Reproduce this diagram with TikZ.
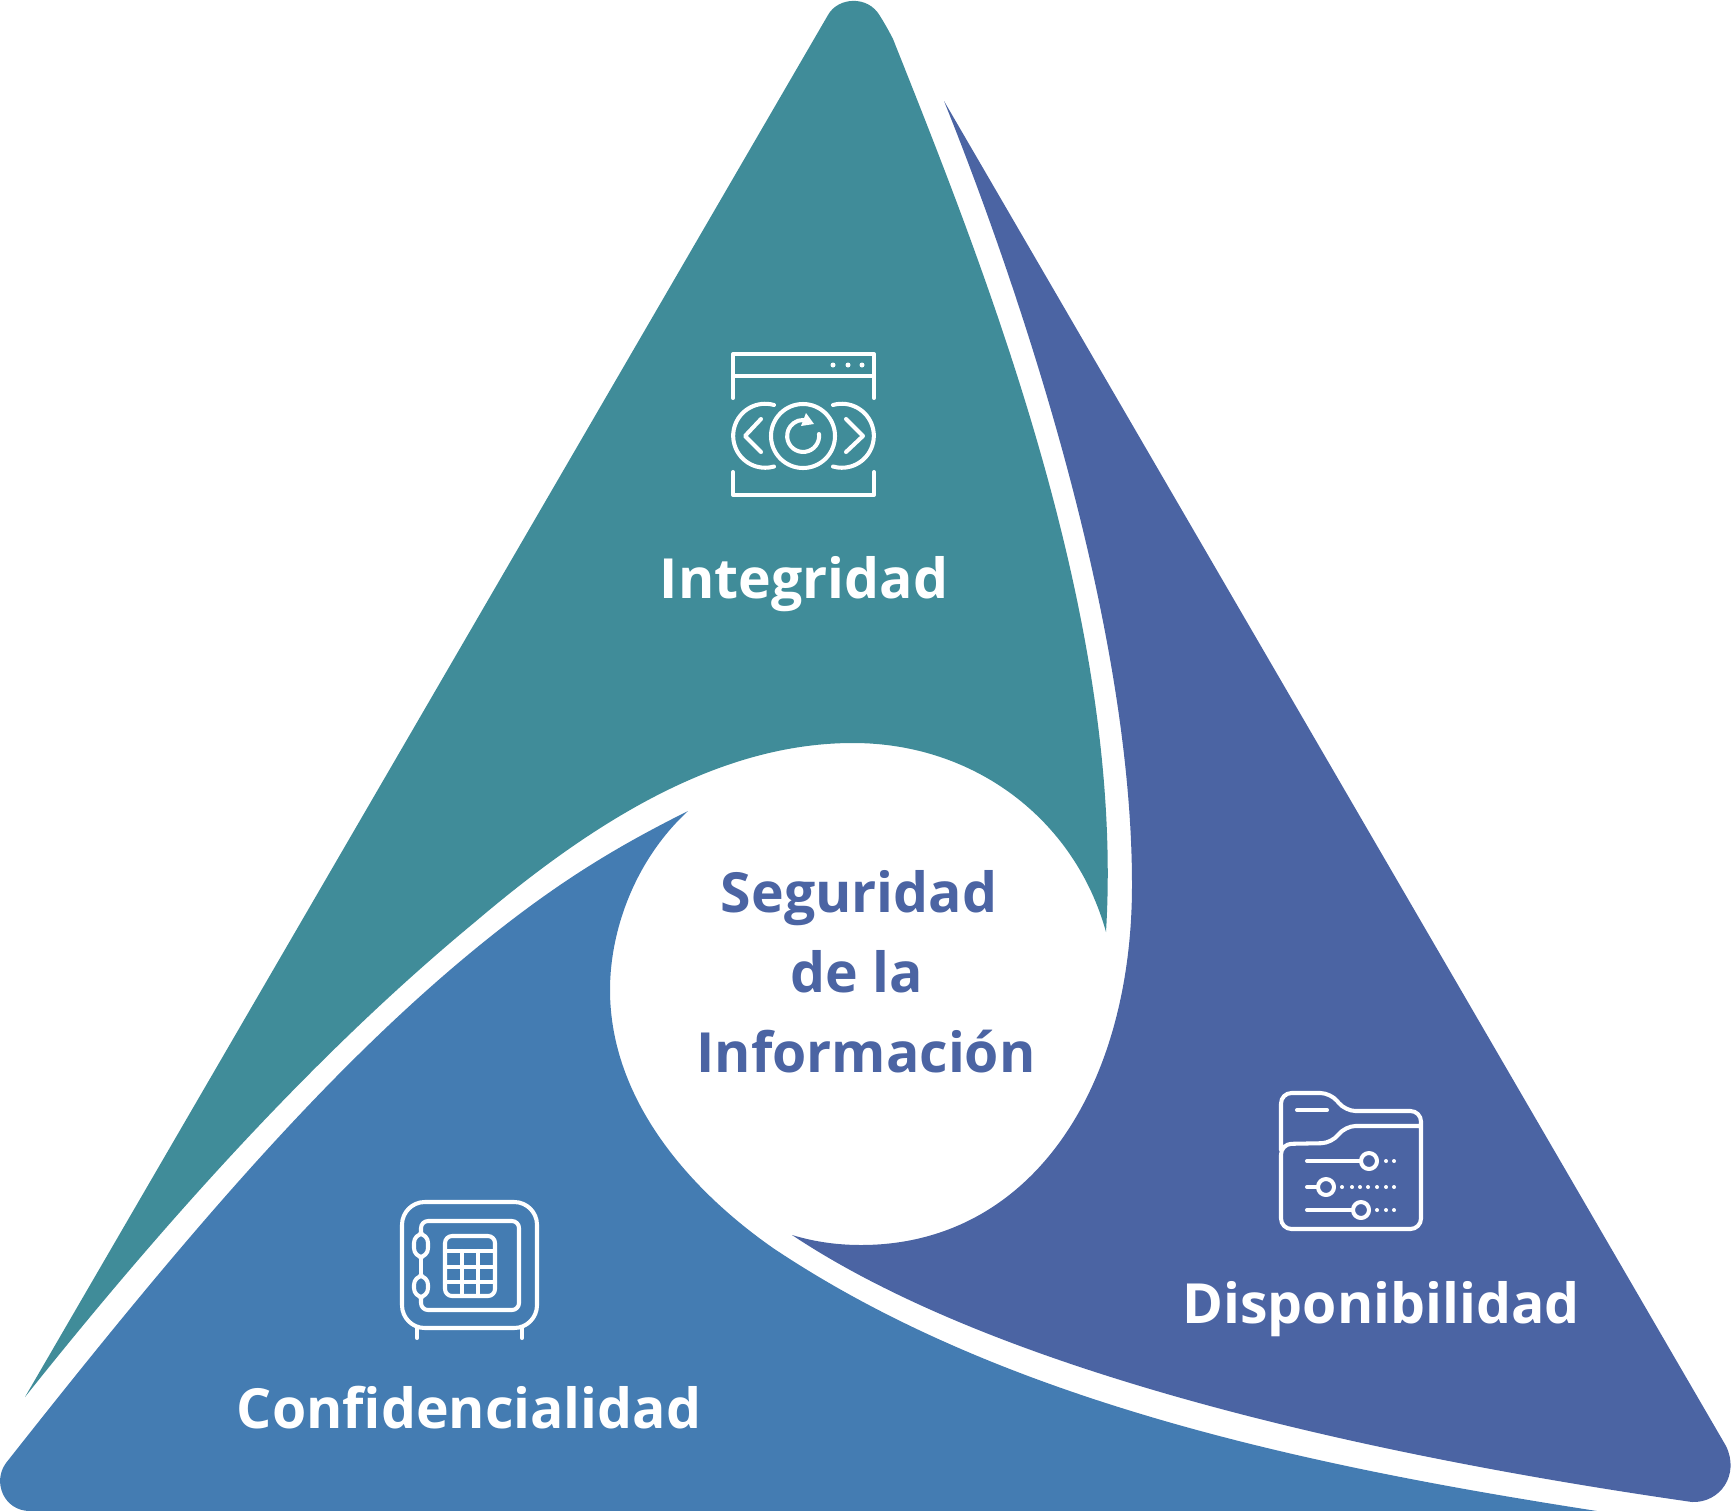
\documentclass[tikz,border=0pt]{standalone}
\usepackage{fontspec}
\setmainfont{Open Sans}
\definecolor{tealpart}{HTML}{408C99}
\definecolor{bluepart}{HTML}{447CB2}
\definecolor{purplepart}{HTML}{4B64A3}
\tikzset{
  iconline/.style={draw=white, line width=2.3pt, line cap=round, line join=round},
  icondot/.style={fill=white, draw=none},
  whitelabel/.style={anchor=base, text=white, font=\fontsize{31.5}{38}\selectfont\bfseries},
  centerlabel/.style={anchor=base, text=purplepart, font=\fontsize{31.5}{38}\selectfont\bfseries}
}
\begin{document}
\begin{tikzpicture}[x=0.02cm, y=-0.02cm]
\useasboundingbox (0,0) rectangle (1731,1511);
% three parts
\fill[tealpart] (25,1397) -- (828,15) .. controls (838,-3) and (868,-5) .. (880,16)
  .. controls (885,24) and (890,33) .. (893,39)
  .. controls (985,270) and (1125,620) .. (1106,932)
  .. controls (1075,820) and (975,743) .. (853,743)
  .. controls (720,743) and (595,820) .. (475,922)
  .. controls (320,1050) and (170,1215) .. (25,1397) -- cycle;
\fill[bluepart] (688,811) .. controls (635,860) and (610,930) .. (610,990)
  .. controls (610,1100) and (690,1190) .. (773,1248)
  .. controls (1000,1400) and (1300,1465) .. (1597,1511)
  -- (30,1511) .. controls (4,1511) and (-8,1482) .. (6,1463)
  .. controls (170,1255) and (320,1075) .. (480,945)
  .. controls (560,880) and (620,845) .. (688,811) -- cycle;
\fill[purplepart] (944,101) -- (1726,1446) .. controls (1740,1475) and (1720,1503) .. (1692,1502)
  .. controls (1400,1460) and (1010,1380) .. (792,1235)
  .. controls (815,1242) and (838,1245) .. (861,1245)
  .. controls (1030,1245) and (1132,1090) .. (1132,885)
  .. controls (1132,600) and (1000,240) .. (944,101) -- cycle;
% labels
\node[whitelabel] (integ) at (804,598) {Integridad};
\node[whitelabel] (dispo) at (1381,1323) {Disponibilidad};
\node[whitelabel] (confi) at (469,1428) {Confidencialidad};
\node[centerlabel] (seg) at (859,912) {Seguridad};
\node[centerlabel] (dela) at (857,992) {de la};
\node[centerlabel] (info) at (866,1072) {Información};
% window icon
\draw[iconline] (733,398) -- (733,354) -- (874,354) -- (874,398);
\draw[iconline] (733,376) -- (874,376);
\draw[iconline] (733,472) -- (733,495) -- (874,495) -- (874,472);
\foreach \dx in {833,848,862} \fill[icondot] (\dx,365) circle (2.5);
\draw[iconline] (803,436) circle (32);
\draw[iconline] (774,405) arc[start angle=286, end angle=74, radius=32];
\draw[iconline] (833,405) arc[start angle=-106, end angle=106, radius=32];
\draw[iconline] (761,419) -- (745,436) -- (761,452);
\draw[iconline] (846,419) -- (863,436) -- (846,452);
\draw[iconline] (819,434) arc[start angle=-7, end angle=270, radius=16];
\fill[white] (806,413) -- (814,424) -- (801,426) -- cycle;
% safe icon
\draw[iconline, rounded corners=13] (402,1202) rectangle (537,1328);
\draw[iconline] (417,1328) -- (417,1338);
\draw[iconline] (522,1328) -- (522,1338);
\draw[iconline, rounded corners=4] (421,1234) -- (421,1221) -- (519,1221) -- (519,1310) -- (421,1310) -- (421,1297);
\draw[iconline] (421,1257) -- (421,1276);
\draw[iconline, rounded corners=5] (414,1234) rectangle (428,1257);
\draw[iconline, rounded corners=5] (414,1276) rectangle (428,1297);
\draw[iconline, rounded corners=4] (445,1236) rectangle (495,1296);
\foreach \ky in {1251,1267,1282} \draw[iconline] (445,\ky) -- (495,\ky);
\foreach \kx in {462,478} \draw[iconline] (\kx,1251) -- (\kx,1296);
% folder icon
\draw[iconline, rounded corners=6] (1281,1150) -- (1281,1093) -- (1331,1093) -- (1345,1111) -- (1421,1111) -- (1421,1229) -- (1281,1229) -- (1281,1144) -- (1332,1143) -- (1345,1126) -- (1421,1126);
\draw[iconline] (1297,1110) -- (1327,1110);
\draw[iconline] (1307,1161) -- (1361,1161);
\draw[iconline] (1369,1161) circle (8);
\draw[iconline] (1307,1187) -- (1317,1187);
\draw[iconline] (1326,1187) circle (8);
\draw[iconline] (1307,1210) -- (1352,1210);
\draw[iconline] (1361,1210) circle (8);
\foreach \dx in {1386,1394} \fill[icondot] (\dx,1161) circle (2);
\foreach \dx in {1342,1352,1360,1368,1377,1386,1394} \fill[icondot] (\dx,1187) circle (2);
\foreach \dx in {1377,1386,1394} \fill[icondot] (\dx,1210) circle (2);
\end{tikzpicture}
\end{document}
